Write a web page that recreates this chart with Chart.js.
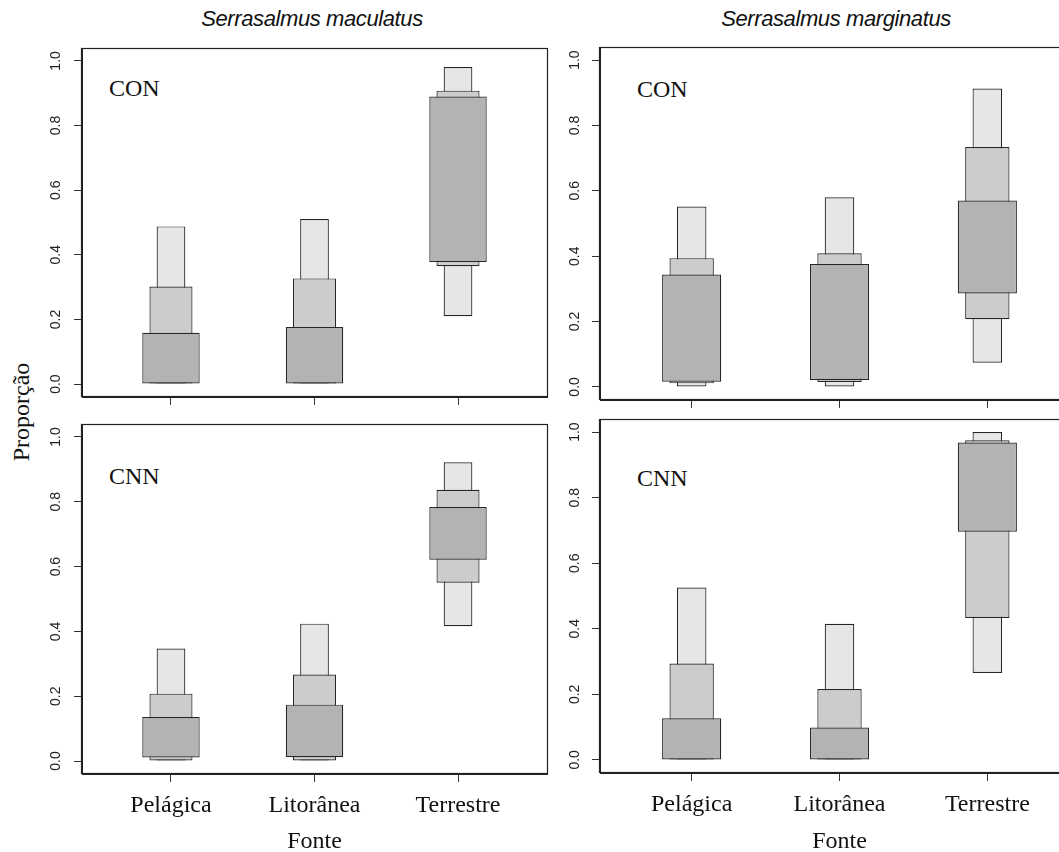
<!DOCTYPE html>
<html>
<head>
<meta charset="utf-8">
<script src="https://cdn.jsdelivr.net/npm/chart.js@4.4.1/dist/chart.umd.min.js"></script>
<style>
  html, body { margin: 0; padding: 0; background: #fff; }
  body { position: relative; width: 1059px; height: 852px; overflow: hidden; }
  canvas { position: absolute; }
  .lbl { position: absolute; white-space: nowrap; line-height: 1; color: #111; }
  .sp { font-family: "Liberation Sans", Arial, sans-serif; font-style: italic; font-size: 22px; letter-spacing: -0.4px; }
  .serif { font-family: "Liberation Serif", "Times New Roman", serif; font-size: 24px; }
</style>
</head>
<body>
<div class="lbl sp" style="left:312px; top:8px; transform:translateX(-50%);">Serrasalmus maculatus</div>
<div class="lbl sp" style="left:836px; top:8px; transform:translateX(-50%);">Serrasalmus marginatus</div>
<div class="lbl serif" style="left:20.5px; top:412px; transform:translate(-50%,-50%) rotate(-90deg);">Proporção</div>
<div class="lbl serif" style="left:109px; top:76px;">CON</div>
<div class="lbl serif" style="left:637px; top:77px;">CON</div>
<div class="lbl serif" style="left:109px; top:464px;">CNN</div>
<div class="lbl serif" style="left:637px; top:466px;">CNN</div>

<canvas id="p1" width="519" height="363" style="left:30px; top:46px;"></canvas>
<canvas id="p2" width="533" height="367" style="left:548px; top:45px;"></canvas>
<canvas id="p3" width="519" height="432" style="left:30px; top:422px;"></canvas>
<canvas id="p4" width="533" height="437" style="left:548px; top:417px;"></canvas>

<script>
// Diet sources (x positions 1..3) and proportion axis ticks
const sources = ['Pelágica', 'Litorânea', 'Terrestre'];
const xTicks = [1, 2, 3];
const yTicks = [0, 0.2, 0.4, 0.6, 0.8, 1.0];

// Credible intervals [low, high] per source: 95 %, 75 % and 50 %
// Serrasalmus maculatus - CON
const macCon95 = [[0.000, 0.488], [0.000, 0.511], [0.210, 0.981]];
const macCon75 = [[0.000, 0.302], [0.000, 0.327], [0.365, 0.908]];
const macCon50 = [[0.000, 0.159], [0.000, 0.177], [0.378, 0.890]];
// Serrasalmus marginatus - CON
const marCon95 = [[0.000, 0.552], [0.000, 0.580], [0.074, 0.913]];
const marCon75 = [[0.011, 0.394], [0.015, 0.409], [0.207, 0.734]];
const marCon50 = [[0.016, 0.344], [0.021, 0.376], [0.286, 0.570]];
// Serrasalmus maculatus - CNN
const macCnn95 = [[0.000, 0.347], [0.000, 0.424], [0.416, 0.922]];
const macCnn75 = [[0.002, 0.208], [0.002, 0.267], [0.550, 0.837]];
const macCnn50 = [[0.011, 0.136], [0.012, 0.174], [0.621, 0.784]];
// Serrasalmus marginatus - CNN
const marCnn95 = [[0.000, 0.526], [0.000, 0.415], [0.265, 1.000]];
const marCnn75 = [[0.000, 0.294], [0.000, 0.216], [0.433, 0.975]];
const marCnn50 = [[0.000, 0.127], [0.000, 0.099], [0.696, 0.968]];

const FILL95 = '#e6e6e6', FILL75 = '#cccccc', FILL50 = '#b3b3b3';
const EDGE = '#262626';

// plot frame around the chart area
const framePlugin = {
  id: 'frame',
  afterDraw(chart) {
    const a = chart.chartArea, ctx = chart.ctx;
    ctx.save();
    ctx.strokeStyle = '#222';
    ctx.lineWidth = 1.2;
    ctx.strokeRect(Math.round(a.left) - 0.5, Math.round(a.top) + 0.5,
                   Math.round(a.right - a.left) + 1, Math.round(a.bottom - a.top) - 1);
    ctx.restore();
  }
};

function toPoints(arr) {
  return xTicks.map((x, i) => ({ x: x, y: arr[i] }));
}

function intervalSet(arr, fill, width, order) {
  return {
    data: toPoints(arr),
    backgroundColor: fill,
    borderColor: EDGE,
    borderWidth: 1.2,
    borderSkipped: false,
    inflateAmount: 0,
    grouped: false,
    categoryPercentage: 1,
    barPercentage: width,
    order: order
  };
}

function makePanel(id, s95, s75, s50, xAxisHeight, bottomRow, yPad) {
  new Chart(document.getElementById(id), {
    type: 'bar',
    data: {
      datasets: [
        intervalSet(s50, FILL50, 0.4, 1),
        intervalSet(s75, FILL75, 0.3, 2),
        intervalSet(s95, FILL95, 0.2, 3)
      ]
    },
    options: {
      responsive: false,
      animation: false,
      events: [],
      layout: { autoPadding: false, padding: { left: 0, top: 2, right: 2, bottom: 0 } },
      plugins: { legend: { display: false }, tooltip: { enabled: false } },
      scales: {
        x: {
          type: 'linear',
          min: 0.38, max: 3.62,
          offset: false,
          afterBuildTicks(scale) { scale.ticks = xTicks.map(v => ({ value: v })); },
          afterFit(scale) {
            scale.height = xAxisHeight;
            scale.paddingLeft = 0; scale.paddingRight = 0;
            scale.paddingTop = 0; scale.paddingBottom = 0;
          },
          grid: { drawOnChartArea: false, drawTicks: true, tickLength: 8, color: '#333', tickColor: '#333', offset: false },
          border: { display: true, color: '#222' },
          ticks: {
            autoSkip: false, maxRotation: 0, minRotation: 0,
            padding: 12,
            color: '#111',
            font: { family: '"Liberation Serif", "Times New Roman", serif', size: 24, lineHeight: 1 },
            callback: (v) => bottomRow ? sources[xTicks.indexOf(v)] : ''
          },
          title: {
            display: bottomRow,
            text: 'Fonte',
            color: '#111',
            padding: { top: 0, bottom: 0 },
            font: { family: '"Liberation Serif", "Times New Roman", serif', size: 24, lineHeight: 1 }
          }
        },
        y: {
          type: 'linear',
          min: -0.04, max: 1.04,
          afterBuildTicks(scale) { scale.ticks = yTicks.map(v => ({ value: v })); },
          afterFit(scale) {
            scale.width = 52;
            scale.paddingTop = 0; scale.paddingBottom = 0;
            scale.paddingLeft = 0; scale.paddingRight = 0;
          },
          grid: { drawOnChartArea: false, drawTicks: true, tickLength: 8, color: '#333', tickColor: '#333' },
          border: { display: true, color: '#222' },
          ticks: {
            minRotation: 90, maxRotation: 90,
            crossAlign: 'center',
            padding: yPad,
            color: '#222',
            font: { family: '"Liberation Sans", Arial, sans-serif', size: 14 },
            callback: (v) => v.toFixed(1)
          }
        }
      }
    },
    plugins: [framePlugin]
  });
}

makePanel('p1', macCon95, macCon75, macCon50, 12, false, 8);
makePanel('p2', marCon95, marCon75, marCon50, 12, false, 7);
makePanel('p3', macCnn95, macCnn75, macCnn50, 80, true, 8);
makePanel('p4', marCnn95, marCnn75, marCnn50, 81, true, 7);
</script>
</body>
</html>
